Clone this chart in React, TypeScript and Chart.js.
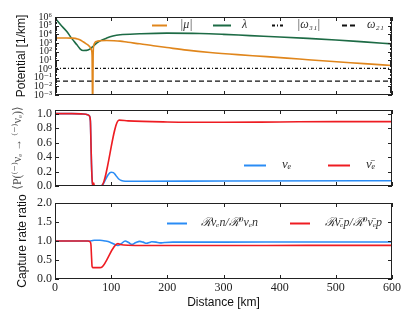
import React, { useEffect, useRef } from "react";
import { Chart, registerables } from "chart.js";
Chart.register(...registerables);

// ---------- shared x axis ----------
const distanceTicks = [0, 100, 200, 300, 400, 500, 600];
const distanceTickLabels = ["0", "100", "200", "300", "400", "500", "600"];

// ---------- panel 1: potentials [1/km] ----------
const potentialTicks = [1e-3, 1e-2, 1e-1, 1, 10, 100, 1e3, 1e4, 1e5, 1e6];
const potentialTickLabels = ["10⁻³", "10⁻²", "10⁻¹", "10⁰", "10¹", "10²", "10³", "10⁴", "10⁵", "10⁶"];

const muKm = [0, 10, 20, 30, 36, 40, 45, 50, 55, 60, 63, 65, 66, 67, 68, 69, 71, 74, 80, 92, 105, 116, 130, 151, 175, 199, 235, 276, 325, 377, 435, 495, 550, 600];
const muVal = [3700, 3750, 3750, 3650, 3400, 2900, 2200, 1400, 850, 500, 300, 150, 40, 0.00001, 60, 500, 1100, 1500, 1800, 1950, 1850, 1650, 1200, 810, 480, 300, 150, 80, 45, 27, 14, 7.2, 4.2, 2.5];

const lambdaKm = [0, 10, 21, 30, 39, 45, 50, 56, 62, 68, 74, 82, 92, 103, 116, 151, 199, 258, 300, 347, 400, 450, 500, 550, 600];
const lambdaVal = [760000, 126000, 21000, 3200, 620, 200, 135, 140, 200, 420, 980, 2000, 3700, 6300, 8900, 11500, 13800, 12600, 10000, 7100, 5000, 3400, 2240, 1350, 800];

const omegaKm = [0, 600];
const omega31Val = [1.2, 1.2];
const omega21Val = [0.04, 0.04];

// ---------- panel 2: survival probability ----------
const probTicks = [0, 0.2, 0.4, 0.6, 0.8, 1.0];
const probTickLabels = ["0.0", "0.2", "0.4", "0.6", "0.8", "1.0"];

const nueProbKm = [0, 30, 50, 58, 61, 63, 64, 65, 66, 67, 70, 82, 86, 90, 95, 100, 104, 108, 113, 118, 125, 150, 300, 600];
const nueProbVal = [1.0, 1.0, 0.995, 0.985, 0.97, 0.9, 0.6, 0.3, 0.1, 0.02, 0.0, 0.0, 0.03, 0.09, 0.16, 0.19, 0.185, 0.15, 0.1, 0.075, 0.065, 0.065, 0.07, 0.072];

const nuebarProbKm = [0, 30, 50, 58, 61, 63, 64, 65, 66, 67, 68, 69, 70, 82, 114, 130, 200, 300, 400, 500, 600];
const nuebarProbVal = [1.0, 1.0, 0.995, 0.985, 0.97, 0.9, 0.6, 0.3, 0.1, 0.02, 0.0, 0.04, 0.0, 0.0, 0.91, 0.9, 0.885, 0.88, 0.885, 0.89, 0.89];

// ---------- panel 3: capture rate ratio ----------
const rateTicks = [0, 0.5, 1.0, 1.5, 2.0];
const rateTickLabels = ["0.0", "0.5", "1.0", "1.5", "2.0"];

const nueRateKm = [0, 60, 65, 70, 80, 90, 98, 105, 112, 118, 125, 131, 137, 144, 151, 157, 163, 168, 172, 180, 187, 195, 210, 300, 450, 600];
const nueRateVal = [1.0, 1.0, 1.005, 1.02, 1.02, 1.0, 0.97, 0.92, 0.88, 0.93, 1.0, 0.96, 0.91, 0.96, 0.99, 0.97, 0.94, 0.96, 0.98, 0.97, 0.95, 0.96, 0.97, 0.97, 0.975, 0.975];

const nuebarRateKm = [0, 58, 61, 63, 64, 65, 66, 67, 80, 84, 112, 116, 130, 200, 300, 450, 600];
const nuebarRateVal = [1.0, 1.0, 0.99, 0.97, 0.9, 0.6, 0.33, 0.3, 0.3, 0.32, 0.93, 0.91, 0.89, 0.88, 0.88, 0.885, 0.885];

// ---------- styling ----------
const SERIF = "'Liberation Serif', 'DejaVu Serif', serif";
const SANS = "'Liberation Sans', Arial, sans-serif";
const ORANGE = "#e0861c";
const GREEN = "#1d6b45";
const BLUE = "#2a8cf5";
const RED = "#ee1c22";
const INK = "#222";

const pts = (xs: number[], ys: number[]) => xs.map((x, i) => ({ x, y: ys[i] }));

const lineDs = (label: string, xs: number[], ys: number[], color: string, extra: any = {}) => ({
  label,
  data: pts(xs, ys),
  borderColor: color,
  backgroundColor: color,
  borderWidth: 1.6,
  pointRadius: 0,
  cubicInterpolationMode: "monotone",
  fill: false,
  ...extra,
});

const framePlugin = {
  id: "frame",
  afterDatasetsDraw(chart: any) {
    const { ctx, chartArea: a } = chart;
    const xs = chart.scales.x;
    const ys = chart.scales.y;
    ctx.save();
    ctx.strokeStyle = INK;
    ctx.lineWidth = 1;
    ctx.beginPath();
    for (const v of distanceTicks) {
      const px = Math.round(xs.getPixelForValue(v)) + 0.5;
      ctx.moveTo(px, a.bottom);
      ctx.lineTo(px, a.bottom - 4);
      ctx.moveTo(px, a.top);
      ctx.lineTo(px, a.top + 4);
    }
    for (const t of ys.ticks) {
      const py = Math.round(ys.getPixelForValue(t.value)) + 0.5;
      ctx.moveTo(a.left, py);
      ctx.lineTo(a.left + 4, py);
      ctx.moveTo(a.right, py);
      ctx.lineTo(a.right - 4, py);
    }
    if (ys.type === "logarithmic") {
      for (const t of ys.ticks) {
        for (let m = 2; m <= 9; m++) {
          const v = t.value * m;
          if (v > ys.max) continue;
          const py = Math.round(ys.getPixelForValue(v)) + 0.5;
          ctx.moveTo(a.left, py);
          ctx.lineTo(a.left + 2, py);
          ctx.moveTo(a.right, py);
          ctx.lineTo(a.right - 2, py);
        }
      }
    }
    ctx.stroke();
    ctx.strokeRect(a.left + 0.5, a.top + 0.5, a.right - a.left - 1, a.bottom - a.top - 1);
    ctx.restore();
  },
};

const legendPlugin = {
  id: "inlineLegend",
  afterDraw(chart: any, _args: any, opts: any) {
    const { ctx } = chart;
    ctx.save();
    for (const it of opts.items || []) {
      const ds = chart.data.datasets[it.index];
      ctx.strokeStyle = ds.borderColor;
      ctx.lineWidth = 2;
      ctx.setLineDash(ds.borderDash || []);
      ctx.beginPath();
      ctx.moveTo(it.x, it.y + 0.5);
      ctx.lineTo(it.x + it.len, it.y + 0.5);
      ctx.stroke();
      ctx.setLineDash([]);
      ctx.fillStyle = "#333";
      ctx.font = opts.font;
      ctx.textBaseline = "middle";
      ctx.textAlign = "left";
      ctx.fillText(ds.label, it.tx, it.y);
    }
    ctx.restore();
  },
};

const xAxis = (show: boolean) => ({
  type: "linear",
  min: 0,
  max: 600,
  display: show,
  afterBuildTicks: (s: any) => {
    s.ticks = distanceTicks.map((v) => ({ value: v }));
  },
  afterFit: show
    ? (s: any) => {
        s.height = 44;
      }
    : undefined,
  grid: { display: false, drawTicks: false },
  border: { display: false },
  ticks: {
    autoSkip: false,
    maxRotation: 0,
    padding: 2,
    color: INK,
    font: { family: SERIF, size: 12 },
    callback: (_v: any, i: number) => distanceTickLabels[i],
  },
  title: {
    display: show,
    text: "Distance [km]",
    color: "#111",
    font: { family: SANS, size: 12 },
    padding: { top: 0, bottom: 12.8 },
  },
});

const yAxis = (extra: any, ticks: number[], labels: string[], fontSize: number, title: any) => ({
  ...extra,
  afterBuildTicks: (s: any) => {
    s.ticks = ticks.map((v) => ({ value: v }));
  },
  afterFit: (s: any) => {
    s.width = 55;
  },
  grid: { display: false, drawTicks: false },
  border: { display: false },
  ticks: {
    autoSkip: false,
    padding: 3,
    color: INK,
    font: { family: SERIF, size: fontSize },
    callback: (_v: any, i: number) => labels[i],
  },
  title,
});

const baseOptions = (padding: any, scales: any, legend: any) => ({
  responsive: false,
  animation: false,
  devicePixelRatio: 1,
  layout: { padding },
  scales,
  plugins: {
    legend: { display: false },
    tooltip: { enabled: false },
    inlineLegend: legend,
  },
});

function config1(): any {
  return {
    type: "line",
    data: {
      datasets: [
        lineDs("|μ|", muKm, muVal, ORANGE),
        lineDs("λ", lambdaKm, lambdaVal, GREEN),
        lineDs("|ω₃₁|", omegaKm, omega31Val, "#111", { borderWidth: 1.2, borderDash: [3, 2, 1, 2] }),
        lineDs("ω₂₁", omegaKm, omega21Val, "#111", { borderWidth: 1.2, borderDash: [5, 3] }),
      ],
    },
    options: baseOptions(
      { left: 0, right: 23, top: 17, bottom: 10 },
      {
        x: xAxis(false),
        y: yAxis({ type: "logarithmic", min: 1e-3, max: 1e6 }, potentialTicks, potentialTickLabels, 10, {
          display: true,
          text: "Potential [1/km]",
          color: "#111",
          font: { family: SANS, size: 12 },
          padding: { top: 14.5, bottom: 0 },
        }),
      },
      {
        font: `italic 12px ${SERIF}`,
        items: [
          { index: 0, x: 152, len: 15, tx: 180, y: 25 },
          { index: 1, x: 213, len: 18, tx: 242, y: 25 },
          { index: 2, x: 272, len: 13, tx: 297, y: 25 },
          { index: 3, x: 342, len: 15, tx: 367, y: 25 },
        ],
      }
    ),
    plugins: [framePlugin, legendPlugin],
  };
}

function config2(): any {
  return {
    type: "line",
    data: {
      datasets: [
        lineDs("νₑ", nueProbKm, nueProbVal, BLUE, { order: 1 }),
        lineDs("ν̄ₑ", nuebarProbKm, nuebarProbVal, RED, { order: 0 }),
      ],
    },
    options: baseOptions(
      { left: 0, right: 23, top: 15, bottom: 14 },
      {
        x: xAxis(false),
        y: yAxis({ type: "linear", min: 0, max: 1.05 }, probTicks, probTickLabels, 12, {
          display: true,
          text: "⟨P(⁽⁻⁾νₑ → ⁽⁻⁾νₑ)⟩",
          color: "#555",
          font: { family: SERIF, size: 12 },
          padding: { top: 10.8, bottom: 0 },
        }),
      },
      {
        font: `italic 13px ${SERIF}`,
        items: [
          { index: 0, x: 244, len: 22, tx: 282, y: 70 },
          { index: 1, x: 328, len: 22, tx: 366, y: 70 },
        ],
      }
    ),
    plugins: [framePlugin, legendPlugin],
  };
}

function config3(): any {
  return {
    type: "line",
    data: {
      datasets: [
        lineDs("ℛνₑn/ℛ⁰νₑn", nueRateKm, nueRateVal, BLUE, { order: 1 }),
        lineDs("ℛν̄ₑp/ℛ⁰ν̄ₑp", nuebarRateKm, nuebarRateVal, RED, { order: 0 }),
      ],
    },
    options: baseOptions(
      { left: 0, right: 23, top: 15, bottom: 0 },
      {
        x: xAxis(true),
        y: yAxis({ type: "linear", min: 0, max: 2 }, rateTicks, rateTickLabels, 12, {
          display: true,
          text: "Capture rate ratio",
          color: "#111",
          font: { family: SANS, size: 12 },
          padding: { top: 15, bottom: 0 },
        }),
      },
      {
        font: `italic 12px ${SERIF}`,
        items: [
          { index: 0, x: 167, len: 20, tx: 201, y: 35 },
          { index: 1, x: 290, len: 20, tx: 325, y: 35 },
        ],
      }
    ),
    plugins: [framePlugin, legendPlugin],
  };
}

export default function App() {
  const r1 = useRef<HTMLCanvasElement>(null);
  const r2 = useRef<HTMLCanvasElement>(null);
  const r3 = useRef<HTMLCanvasElement>(null);

  useEffect(() => {
    const charts = [
      new Chart(r1.current as HTMLCanvasElement, config1()),
      new Chart(r2.current as HTMLCanvasElement, config2()),
      new Chart(r3.current as HTMLCanvasElement, config3()),
    ];
    return () => charts.forEach((c) => c.destroy());
  }, []);

  const cs = (top: number, h: number): React.CSSProperties => ({
    position: "absolute",
    left: 0,
    top,
    width: 415,
    height: h,
  });

  return (
    <div style={{ position: "absolute", left: 0, top: 0, width: 415, height: 323, background: "#fff" }}>
      <canvas ref={r1} width={415} height={105} style={cs(0, 105)} />
      <canvas ref={r2} width={415} height={105} style={cs(95, 105)} />
      <canvas ref={r3} width={415} height={135} style={cs(188, 135)} />
    </div>
  );
}
